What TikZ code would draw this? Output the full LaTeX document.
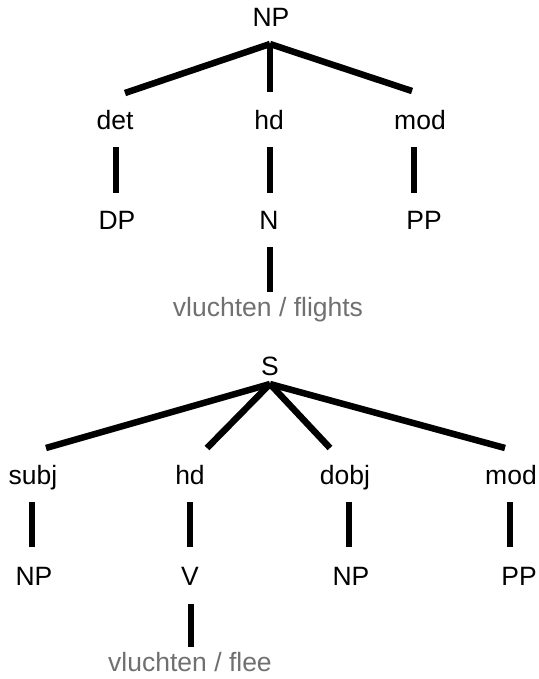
\documentclass[tikz,border=0pt]{standalone}
\usepackage{fontspec}
\setmainfont{Liberation Sans}
\usepackage{xcolor}
\definecolor{glossgray}{RGB}{112,112,112}

\begin{document}
\begin{tikzpicture}[x=1pt, y=-1pt,
        lbl/.style={anchor=base, inner sep=0pt, font=\fontsize{26.5}{32}\selectfont},
        gloss/.style={lbl, text=glossgray},
        branch/.style={line width=6.5pt}]
        \useasboundingbox (0,0) rectangle (538,679);
        % NP tree
        \node[lbl] (np) at (271,27) {NP};
        \node[lbl] (det) at (115,130) {det};
        \node[lbl] (hdn) at (269,130) {hd};
        \node[lbl] (modn) at (420,130) {mod};
        \node[lbl] (dp) at (117,229) {DP};
        \node[lbl] (n) at (269,229) {N};
        \node[lbl] (ppn) at (424,229) {PP};
        \node[gloss] (flights) at (268,316) {vluchten / flights};
        \draw[branch] ([xshift=-1pt,yshift=-17pt]np.base) -- ([xshift=10pt,yshift=37pt]det.base);
        \draw[branch] ([xshift=-1pt,yshift=-17pt]np.base) -- ([xshift=1pt,yshift=38pt]hdn.base);
        \draw[branch] ([xshift=-1pt,yshift=-17pt]np.base) -- ([xshift=-8pt,yshift=39pt]modn.base);
        \draw[branch] ([xshift=1pt,yshift=-17pt]det.base) -- ([xshift=-1pt,yshift=36pt]dp.base);
        \draw[branch] ([xshift=1pt,yshift=-17pt]hdn.base) -- ([xshift=1pt,yshift=36pt]n.base);
        \draw[branch] ([xshift=-6pt,yshift=-17pt]modn.base) -- ([xshift=-10pt,yshift=36pt]ppn.base);
        \draw[branch] ([xshift=1pt,yshift=-18pt]n.base) -- ([xshift=2pt,yshift=24pt]flights.base);
        % S tree
        \node[lbl] (s) at (270,375) {S};
        \node[lbl] (subj) at (33,484) {subj};
        \node[lbl] (hdv) at (190,484) {hd};
        \node[lbl] (dobj) at (345,484) {dobj};
        \node[lbl] (mods) at (511,484) {mod};
        \node[lbl] (npa) at (34,585) {NP};
        \node[lbl] (v) at (190,585) {V};
        \node[lbl] (npb) at (351,585) {NP};
        \node[lbl] (pps) at (519,585) {PP};
        \node[gloss] (flee) at (190,671) {vluchten / flee};
        \draw[branch] ([yshift=-9pt]s.base) -- ([xshift=13pt,yshift=36pt]subj.base);
        \draw[branch] ([yshift=-9pt]s.base) -- ([xshift=17pt,yshift=36pt]hdv.base);
        \draw[branch] ([yshift=-9pt]s.base) -- ([xshift=-15pt,yshift=36pt]dobj.base);
        \draw[branch] ([yshift=-9pt]s.base) -- ([xshift=-6pt,yshift=36pt]mods.base);
        \draw[branch] ([xshift=-1pt,yshift=-18pt]subj.base) -- ([xshift=-2pt,yshift=38pt]npa.base);
        \draw[branch] ([yshift=-18pt]hdv.base) -- ([yshift=38pt]v.base);
        \draw[branch] ([xshift=4pt,yshift=-18pt]dobj.base) -- ([xshift=-2pt,yshift=38pt]npb.base);
        \draw[branch] ([xshift=-1pt,yshift=-18pt]mods.base) -- ([xshift=-9pt,yshift=38pt]pps.base);
        \draw[branch] ([xshift=1pt,yshift=-19pt]v.base) -- ([xshift=1pt,yshift=24pt]flee.base);
    \end{tikzpicture}
\end{document}
